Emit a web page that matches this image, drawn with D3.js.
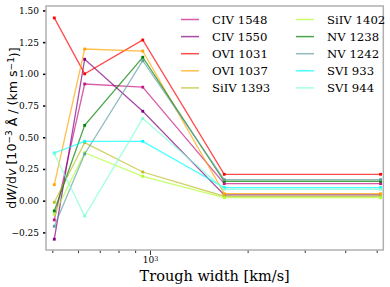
<!DOCTYPE html>
<html>
<head>
<meta charset="utf-8">
<script src="https://cdn.jsdelivr.net/npm/d3@7"></script>
<style>
  body { margin: 0; background: #fff; }
  svg { display: block; }
  .tick text { font-family: "DejaVu Serif", serif; font-size: 9px; fill: #000; }
  .legend text { font-family: "DejaVu Serif", serif; font-size: 11.7px; }
</style>
</head>
<body>
<svg id="chart" width="390" height="287"></svg>
<script>
// trough width bins [km/s]
const widths = [507, 629, 950, 1694, 5140];

const lines = ['CIV 1548', 'CIV 1550', 'OVI 1031', 'OVI 1037', 'SiIV 1393',
               'SiIV 1402', 'NV 1238', 'NV 1242', 'SVI 933', 'SVI 944'];

const civ1548 = [-0.152, 0.92, 0.895, 0.134, 0.134];
const civ1550 = [-0.304, 1.115, 0.705, 0.045, 0.045];
const ovi1031 = [1.441, 1.0, 1.267, 0.208, 0.208];
const ovi1037 = [0.126, 1.196, 1.18, 0.055, 0.055];
const siiv1393 = [-0.013, 0.457, 0.226, 0.035, 0.035];
const siiv1402 = [-0.107, 0.378, 0.192, 0.024, 0.024];
const nv1238 = [-0.081, 0.594, 1.131, 0.153, 0.153];
const nv1242 = [-0.202, 0.368, 1.104, 0.166, 0.166];
const svi933 = [0.376, 0.468, 0.468, 0.103, 0.103];
const svi944 = [0.37, -0.121, 0.647, 0.09, 0.09];

const series = [civ1548, civ1550, ovi1031, ovi1037, siiv1393,
                siiv1402, nv1238, nv1242, svi933, svi944];
const colors = ['#c71585', '#800080', '#ff0000', '#ffa500', '#bcbd22',
                '#adff2f', '#008000', '#5f9ea0', '#00ffff', '#7fffd4'];

const yTicks = [-0.25, 0, 0.25, 0.5, 0.75, 1.0, 1.25, 1.5];
const xTicks = [500, 600, 700, 800, 900, 1000, 2000, 3000, 4000, 5000];

const margin = { top: 6, right: 6.7, bottom: 37, left: 46 };
const width = 390, height = 287;

const chart = d3.select('#chart');

const xScale = d3.scaleLog()
  .domain([478, 5240])
  .range([margin.left, width - margin.right]);

const yScale = d3.scaleLinear()
  .domain([-0.389, 1.535])
  .range([height - margin.bottom, margin.top]);

const fmtY = (d) => d3.format('.2f')(d).replace('-', '\u2212');

// x axis
const xAxis = chart.append('g')
  .attr('class', 'x-axis axis')
  .attr('transform', `translate(0,${height - margin.bottom})`)
  .call(d3.axisBottom(xScale).tickValues(xTicks).tickSize(3).tickFormat(() => ''));
xAxis.select('.domain').remove();
xAxis.selectAll('.tick line').attr('stroke', '#000').attr('stroke-width', 0.8);
xAxis.selectAll('.tick').filter((d) => d === 1000).select('line').attr('y2', 5);
xAxis.selectAll('.tick').filter((d) => d === 1000).select('text')
  .attr('y', 7)
  .attr('dy', '0.71em')
  .each(function () {
    const t = d3.select(this);
    t.append('tspan').text('10');
    t.append('tspan').attr('dy', '-0.35em').style('font-size', '6.5px').text('3');
  });

// y axis
const yAxis = chart.append('g')
  .attr('class', 'y-axis axis')
  .attr('transform', `translate(${margin.left},0)`)
  .call(d3.axisLeft(yScale).tickValues(yTicks).tickSize(3).tickPadding(4).tickFormat(fmtY));
yAxis.select('.domain').remove();
yAxis.selectAll('.tick line').attr('stroke', '#000').attr('stroke-width', 1.5);

// frame
chart.append('rect')
  .attr('x', margin.left)
  .attr('y', margin.top)
  .attr('width', width - margin.left - margin.right)
  .attr('height', height - margin.top - margin.bottom)
  .attr('fill', 'none')
  .attr('stroke', '#b0b0b0')
  .attr('stroke-width', 1.5);

// lines + markers
const line = d3.line()
  .x((d, i) => xScale(widths[i]))
  .y((d) => yScale(d));

series.forEach((vals, k) => {
  chart.append('path')
    .datum(vals)
    .attr('d', line)
    .attr('fill', 'none')
    .attr('stroke', colors[k])
    .attr('stroke-opacity', 0.7)
    .attr('stroke-width', 1.3);

  chart.selectAll(null)
    .data(vals)
    .enter()
    .append('rect')
    .attr('x', (d, i) => xScale(widths[i]) - 1.4)
    .attr('y', (d) => yScale(d) - 1.4)
    .attr('width', 2.8)
    .attr('height', 2.8)
    .attr('fill', colors[k]);
});

// legend
const legend = chart.append('g').attr('class', 'legend');
lines.forEach((name, k) => {
  const col = Math.floor(k / 5), row = k % 5;
  const lx = col === 0 ? 181 : 296;
  const ly = 19.5 + row * 17.1;
  legend.append('line')
    .attr('x1', lx).attr('x2', lx + 18)
    .attr('y1', ly).attr('y2', ly)
    .attr('stroke', colors[k])
    .attr('stroke-opacity', 0.7)
    .attr('stroke-width', 1.5);
  legend.append('text')
    .attr('x', lx + 31)
    .attr('y', ly)
    .attr('dy', '0.35em')
    .text(name);
});

// axis labels
chart.append('text')
  .attr('x', (margin.left + width - margin.right) / 2)
  .attr('y', 281)
  .attr('text-anchor', 'middle')
  .style('font-family', '"DejaVu Serif", serif')
  .style('font-size', '14.5px')
  .text('Trough width [km/s]');

const yl = chart.append('text')
  .attr('transform', `translate(16,${(margin.top + height - margin.bottom) / 2}) rotate(-90)`)
  .attr('text-anchor', 'middle')
  .style('font-family', '"DejaVu Sans", sans-serif')
  .style('font-size', '12.6px');
yl.append('tspan').text('d');
yl.append('tspan').style('font-style', 'italic').text('W');
yl.append('tspan').text('/d');
yl.append('tspan').style('font-style', 'italic').text('v');
yl.append('tspan').text(' [10');
yl.append('tspan').attr('dy', '-0.4em').style('font-size', '9px').text('\u22123');
yl.append('tspan').attr('dy', '0.4em').text(' \u00c5 / (km s');
yl.append('tspan').attr('dy', '-0.4em').style('font-size', '9px').text('\u22121');
yl.append('tspan').attr('dy', '0.4em').text(')]');
</script>
</body>
</html>
